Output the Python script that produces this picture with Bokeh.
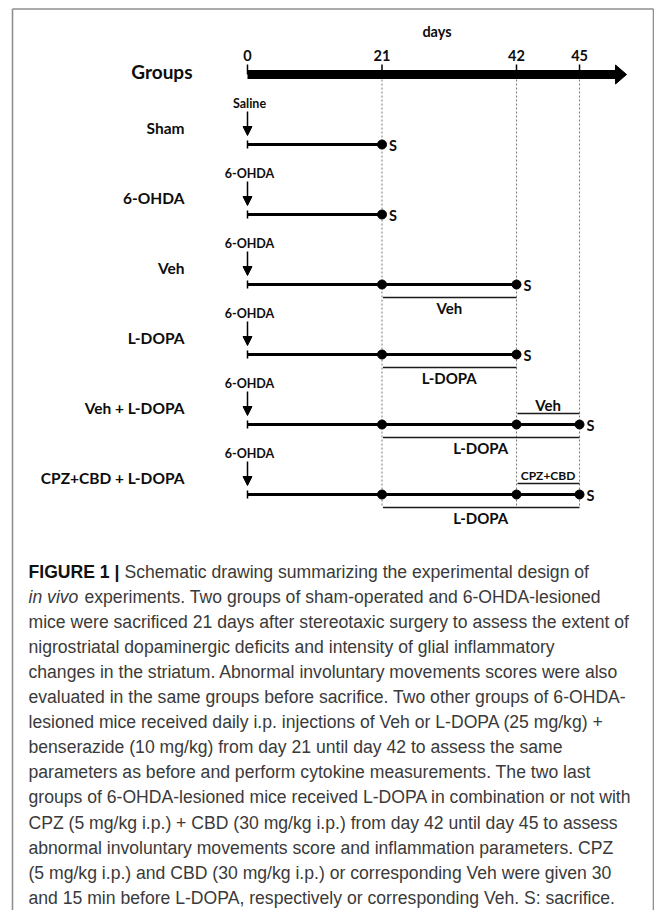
from bokeh.plotting import figure
from bokeh.models import Range1d, Arrow, NormalHead
from bokeh.core.properties import value
from bokeh.embed import file_html
from bokeh.resources import INLINE

# ---------------- data ----------------
day_ticks = [0, 21, 42, 45]
groups = ["Sham", "6-OHDA", "Veh", "L-DOPA", "Veh + L-DOPA", "CPZ+CBD + L-DOPA"]
injections = ["Saline", "6-OHDA", "6-OHDA", "6-OHDA", "6-OHDA", "6-OHDA"]
end_days = [21, 21, 42, 42, 45, 45]
check_days = [21, 42, 45]

treat_group = ["Veh", "L-DOPA", "Veh + L-DOPA", "Veh + L-DOPA", "CPZ+CBD + L-DOPA", "CPZ+CBD + L-DOPA"]
treat_label = ["Veh", "L-DOPA", "Veh", "L-DOPA", "CPZ+CBD", "L-DOPA"]
treat_start = [21, 21, 42, 21, 42, 21]
treat_end = [42, 42, 45, 45, 45, 45]
treat_side = ["below", "below", "above", "below", "above", "below"]

caption_lines = [
    "Schematic drawing summarizing the experimental design of",
    " experiments. Two groups of sham-operated and 6-OHDA-lesioned",
    "mice were sacrificed 21 days after stereotaxic surgery to assess the extent of",
    "nigrostriatal dopaminergic deficits and intensity of glial inflammatory",
    "changes in the striatum. Abnormal involuntary movements scores were also",
    "evaluated in the same groups before sacrifice. Two other groups of 6-OHDA-",
    "lesioned mice received daily i.p. injections of Veh or L-DOPA (25 mg/kg) +",
    "benserazide (10 mg/kg) from day 21 until day 42 to assess the same",
    "parameters as before and perform cytokine measurements. The two last",
    "groups of 6-OHDA-lesioned mice received L-DOPA in combination or not with",
    "CPZ (5 mg/kg i.p.) + CBD (30 mg/kg i.p.) from day 42 until day 45 to assess",
    "abnormal involuntary movements score and inflammation parameters. CPZ",
    "(5 mg/kg i.p.) and CBD (30 mg/kg i.p.) or corresponding Veh were given 30",
    "and 15 min before L-DOPA, respectively or corresponding Veh. S: sacrifice.",
]
caption_title = "FIGURE 1 |"
caption_italic = "in vivo"

# ---------------- layout ----------------
W, H = 654, 910
X0_PX = 247.0      # canvas x of day 0
UX = 6.405         # pixels per schematic day
ROW0_PX = 144.0    # canvas y of first group line
ROW_PX = 70.0      # pixels between group lines
STRETCH = 3.28     # schematic widening of the last days (axis not to scale)


def sx(d):
    return d if d <= 42 else 42 + (d - 42) * STRETCH


def px_x(n):
    return n / UX


def px_y(n):
    return n / ROW_PX


def cx(px):
    return (px - X0_PX) / UX


def cy(px):
    return (px - ROW0_PX) / ROW_PX


BOLD = value("Lato")
INK = "#0d0d0d"

p = figure(width=W, height=H, output_backend="svg", toolbar_location=None,
           x_range=Range1d(cx(0), cx(W)),
           y_range=Range1d(cy(H), cy(0)),
           x_axis_type=None, y_axis_type=None, min_border=0,
           outline_line_color=None, background_fill_color="white",
           border_fill_color="white")
p.grid.visible = False

# frame border
top_y, bot_y = cy(8.5), cy(H)
left_x, right_x = cx(12), cx(W - 1)
p.segment(x0=[left_x, right_x, left_x], y0=[top_y, top_y, top_y],
          x1=[left_x, right_x, right_x], y1=[bot_y, bot_y, top_y],
          line_color="#8f8f8f", line_width=1.6)

# ---------------- timeline ----------------
TL = -1.0
head_start = sx(45) + px_x(36)
head_tip = head_start + px_x(11)
p.segment(x0=[0], y0=[TL], x1=[head_start], y1=[TL], line_color="black", line_width=9, line_cap="butt")
p.patch(x=[head_start, head_start, head_tip], y=[TL - px_y(9.5), TL + px_y(9.5), TL],
        fill_color="black", line_color="black")
tx = [sx(d) for d in day_ticks]
p.segment(x0=tx, y0=[TL - px_y(10)] * len(tx), x1=tx, y1=[TL] * len(tx),
          line_color="black", line_width=1.5)
p.text(x=tx, y=[TL - px_y(19)] * len(tx), text=[str(d) for d in day_ticks],
       text_font=BOLD, text_font_style="bold", text_font_size="14.5px",
       text_align="center", text_baseline="middle", text_color=INK)
p.text(x=[(0 + head_tip) / 2], y=[TL - px_y(43)], text=["days"],
       text_font=BOLD, text_font_style="bold", text_font_size="14.5px",
       text_align="center", text_baseline="middle", text_color=INK)
p.text(x=[-px_x(55)], y=[TL - px_y(3)], text=["Groups"],
       text_font=BOLD, text_font_style="bold", text_font_size="19px",
       text_align="right", text_baseline="middle", text_color=INK)

# dotted guides
last = len(groups) - 1
gx = [sx(d) for d in check_days]
p.segment(x0=gx, y0=[TL + px_y(5)] * len(gx), x1=gx, y1=[last + px_y(13)] * len(gx),
          line_color="#777777", line_width=1, line_dash="2 2")

# ---------------- groups ----------------
rows = list(range(len(groups)))
p.text(x=[-px_x(63)] * len(rows), y=[r - px_y(16.5) for r in rows], text=groups,
       text_font=BOLD, text_font_style="bold", text_font_size="15.5px",
       text_align="right", text_baseline="middle", text_color=INK)
p.text(x=[px_x(2)] * len(rows), y=[r - px_y(41) for r in rows], text=injections,
       text_font=BOLD, text_font_style="bold", text_font_size="12.5px",
       text_align="center", text_baseline="middle", text_color=INK)
for r in rows:
    p.add_layout(Arrow(x_start=0, y_start=r - px_y(33), x_end=0, y_end=r - px_y(9),
                       line_width=1.5, line_color="black",
                       end=NormalHead(size=9, fill_color="black", line_color="black")))
# start caps
p.segment(x0=[0] * len(rows), y0=[r - px_y(4) for r in rows], x1=[0] * len(rows),
          y1=[r + px_y(4) for r in rows], line_color="black", line_width=1.5)
# main lines
p.segment(x0=[0] * len(rows), y0=rows, x1=[sx(e) for e in end_days], y1=rows,
          line_color="black", line_width=3)
dx, dy = [], []
for r, e in zip(rows, end_days):
    for d in check_days:
        if d <= e:
            dx.append(sx(d))
            dy.append(r)
p.scatter(x=dx, y=dy, size=9, fill_color="black", line_color="black")
p.text(x=[sx(e) + px_x(7) for e in end_days], y=[r + px_y(1) for r in rows], text=["S"] * len(rows),
       text_font=BOLD, text_font_style="bold", text_font_size="14.5px",
       text_align="left", text_baseline="middle", text_color=INK)

# treatments
label_size = {"CPZ+CBD": "12px"}
for g, lab, s, e, side in zip(treat_group, treat_label, treat_start, treat_end, treat_side):
    r = groups.index(g)
    if side == "below":
        ly, ty = r + px_y(13), r + px_y(23.5)
    else:
        ly, ty = r - px_y(11), r - px_y(19.5)
    p.segment(x0=[sx(s) + px_x(1)], y0=[ly], x1=[sx(e)], y1=[ly], line_color="#1a1a1a", line_width=1.5)
    p.text(x=[(sx(s) + sx(e)) / 2], y=[ty], text=[lab],
           text_font=BOLD, text_font_style="bold", text_font_size=label_size.get(lab, "15px"),
           text_align="center", text_baseline="middle", text_color=INK)

# ---------------- caption ----------------
CAP_X = cx(28)
CAP_FONT = value("Liberation Sans")
CAP_COLOR = "#3a3a3a"
CAP_SIZE = "17.6px"
cap_y = [cy(571 + 25.1 * k) for k in range(len(caption_lines))]
p.text(x=[CAP_X], y=[cap_y[0]], text=[caption_title], text_font=CAP_FONT, text_font_style="bold",
       text_font_size="17.6px", text_baseline="middle", text_color="#111111")
p.text(x=[CAP_X], y=[cap_y[1]], text=[caption_italic], text_font=CAP_FONT, text_font_style="italic",
       text_font_size=CAP_SIZE, text_baseline="middle", text_color=CAP_COLOR)
xs = [cx(124), cx(84)] + [CAP_X] * (len(caption_lines) - 2)
p.text(x=xs, y=cap_y, text=caption_lines, text_font=CAP_FONT,
       text_font_size=CAP_SIZE, text_baseline="middle", text_color=CAP_COLOR)

open("out.html", "w").write(file_html(p, INLINE))
